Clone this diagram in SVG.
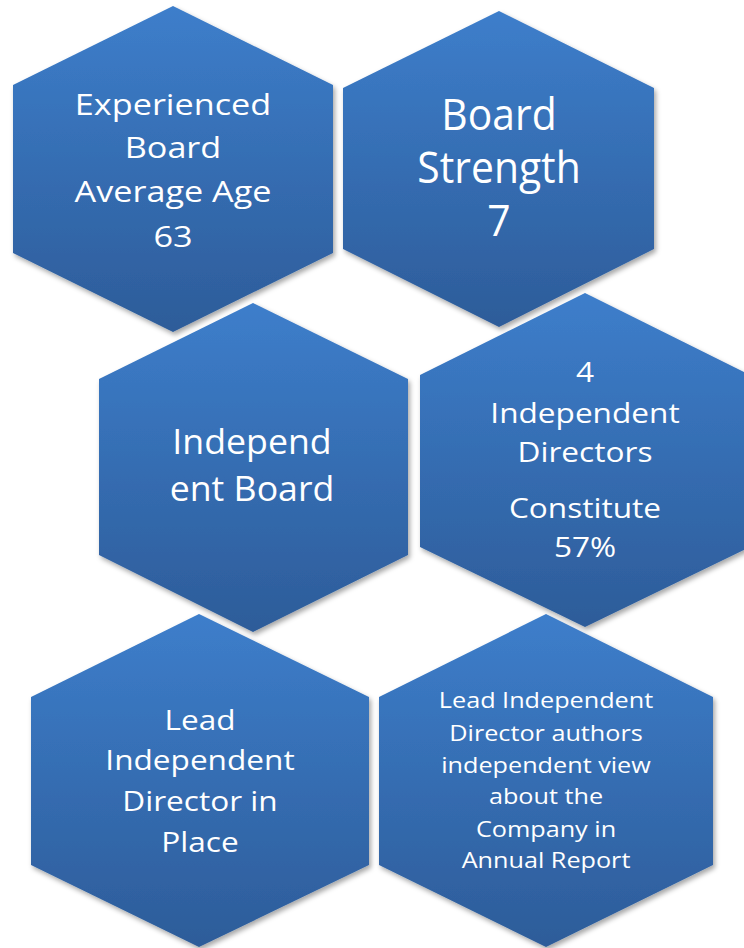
<svg xmlns="http://www.w3.org/2000/svg" width="744" height="948" viewBox="0 0 744 948">
  <defs>
    <linearGradient id="hexFill" x1="0" y1="0" x2="0" y2="1">
      <stop offset="0" stop-color="#3d7ecb"/>
      <stop offset="1" stop-color="#2d5c99"/>
    </linearGradient>
    <filter id="shadow" x="-10%" y="-10%" width="125%" height="125%">
      <feDropShadow dx="2" dy="3" stdDeviation="2.5" flood-color="#000" flood-opacity="0.35"/>
    </filter>
    <style>
      .hex { fill: url(#hexFill); filter: url(#shadow); }
      .lbl { font-family: "Open Sans", "Noto Sans", "Liberation Sans", sans-serif; fill: #ffffff; text-anchor: middle; }
    </style>
  </defs>
  <rect width="744" height="948" fill="#ffffff"/>
  <g id="connectors"/>

  <g id="node-experienced-board">
    <polygon class="hex" points="173,6 333,85 333,253 173,332 13,253 13,85"/>
    <g transform="translate(173,0) scale(1.14,1)" class="lbl" font-size="30">
      <text x="0" y="115">Experienced</text>
      <text x="0" y="158">Board</text>
      <text x="0" y="202">Average Age</text>
      <text x="0" y="247">63</text>
    </g>
  </g>

  <g id="node-board-strength">
    <polygon class="hex" points="499,11 654,88 654,249 499,327 343,249 343,88"/>
    <g transform="translate(499,0) scale(0.95,1)" class="lbl" font-size="43">
      <text x="0" y="130">Board</text>
      <text x="0" y="183">Strength</text>
      <text x="0" y="236">7</text>
    </g>
  </g>

  <g id="node-independent-board">
    <polygon class="hex" points="253,303 408,379 408,555 253,632 99,555 99,379"/>
    <g transform="translate(252,0) scale(1.02,1)" class="lbl" font-size="35">
      <text x="0" y="454">Independ</text>
      <text x="0" y="501">ent Board</text>
    </g>
  </g>

  <g id="node-independent-directors">
    <polygon class="hex" points="585,293 750,375 750,547 585,627 420,547 420,375"/>
    <g transform="translate(585,0) scale(1.17,1)" class="lbl" font-size="27">
      <text x="0" y="382">4</text>
      <text x="0" y="423">Independent</text>
      <text x="0" y="462">Directors</text>
      <text x="0" y="518">Constitute</text>
      <text x="0" y="557">57%</text>
    </g>
  </g>

  <g id="node-lead-independent-director">
    <polygon class="hex" points="199,614 369,697 369,865 199,947 31,865 31,697"/>
    <g transform="translate(200,0) scale(1.17,1)" class="lbl" font-size="27">
      <text x="0" y="730">Lead</text>
      <text x="0" y="770">Independent</text>
      <text x="0" y="811">Director in</text>
      <text x="0" y="852">Place</text>
    </g>
  </g>

  <g id="node-independent-view">
    <polygon class="hex" points="546,614 713,697 713,865 546,947 379,865 379,697"/>
    <g transform="translate(546,0) scale(1.2,1)" class="lbl" font-size="21">
      <text x="0" y="708">Lead Independent</text>
      <text x="0" y="741">Director authors</text>
      <text x="0" y="773">independent view</text>
      <text x="0" y="804">about the</text>
      <text x="0" y="837">Company in</text>
      <text x="0" y="868">Annual Report</text>
    </g>
  </g>
</svg>
